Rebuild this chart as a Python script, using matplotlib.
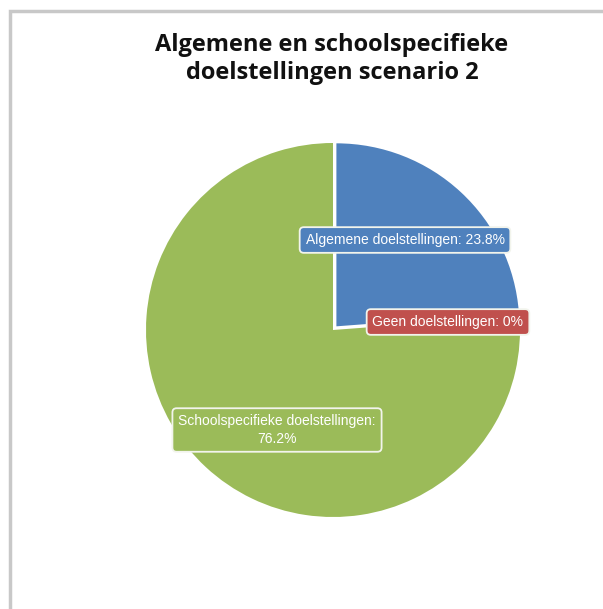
import matplotlib.pyplot as plt
from matplotlib.patches import Rectangle

# data
labels = ['Algemene doelstellingen', 'Geen doelstellingen', 'Schoolspecifieke doelstellingen']
values = [23.8, 0.0, 76.2]
pct_text = ['23.8%', '0%', '76.2%']
slice_colors = ['#4F81BD', '#C0504D', '#9BBB59']
title = 'Algemene en schoolspecifieke\ndoelstellingen scenario 2'

W, H = 603, 609
fig = plt.figure(figsize=(W / 100, H / 100), dpi=100)
ax = fig.add_axes([0, 0, 1, 1])

# light frame (only top/left visible in the original crop)
fig.patches.append(Rectangle((10 / W, -0.1), 1.2, (H - 11) / H + 0.1,
                             transform=fig.transFigure, fill=False,
                             edgecolor='#c8c8c8', linewidth=2.5))

# pie in pixel-like data coords; explode is in data units here
cx, cy, r = 333, H - 330, 187
wedges, _ = ax.pie(values, colors=slice_colors, startangle=90,
                   counterclock=False, explode=[5, 0, 0], radius=r,
                   center=(cx, cy), frame=True, wedgeprops=dict(linewidth=0))
# exploded slice is drawn a bit smaller so it stays inside the plot area
wedges[0].set_radius(r - 4)
ax.set_xlim(0, W)
ax.set_ylim(0, H)
ax.set_aspect('equal')
ax.axis('off')

fig.text(332 / W, 1 - 59 / H, title, ha='center', va='center',
         fontsize=17, fontweight='bold', family='Open Sans',
         color='#111111', linespacing=1.2)

# data labels as rounded boxes
label_pos = [(405, 240), (448, 322), (277, 430)]
label_str = [
    f'{labels[0]}: {pct_text[0]}',
    f'{labels[1]}: {pct_text[1]}',
    f'{labels[2]}:\n{pct_text[2]}',
]
for (x, y), s, c in zip(label_pos, label_str, slice_colors):
    ax.text(x, H - y, s, ha='center', va='center', fontsize=10,
            family='Liberation Sans', color='white', linespacing=1.35,
            bbox=dict(boxstyle='round,pad=0.42,rounding_size=0.3',
                      facecolor=c, edgecolor='#f2f4ec', linewidth=1.3))

fig.savefig('out.png', dpi=100)
